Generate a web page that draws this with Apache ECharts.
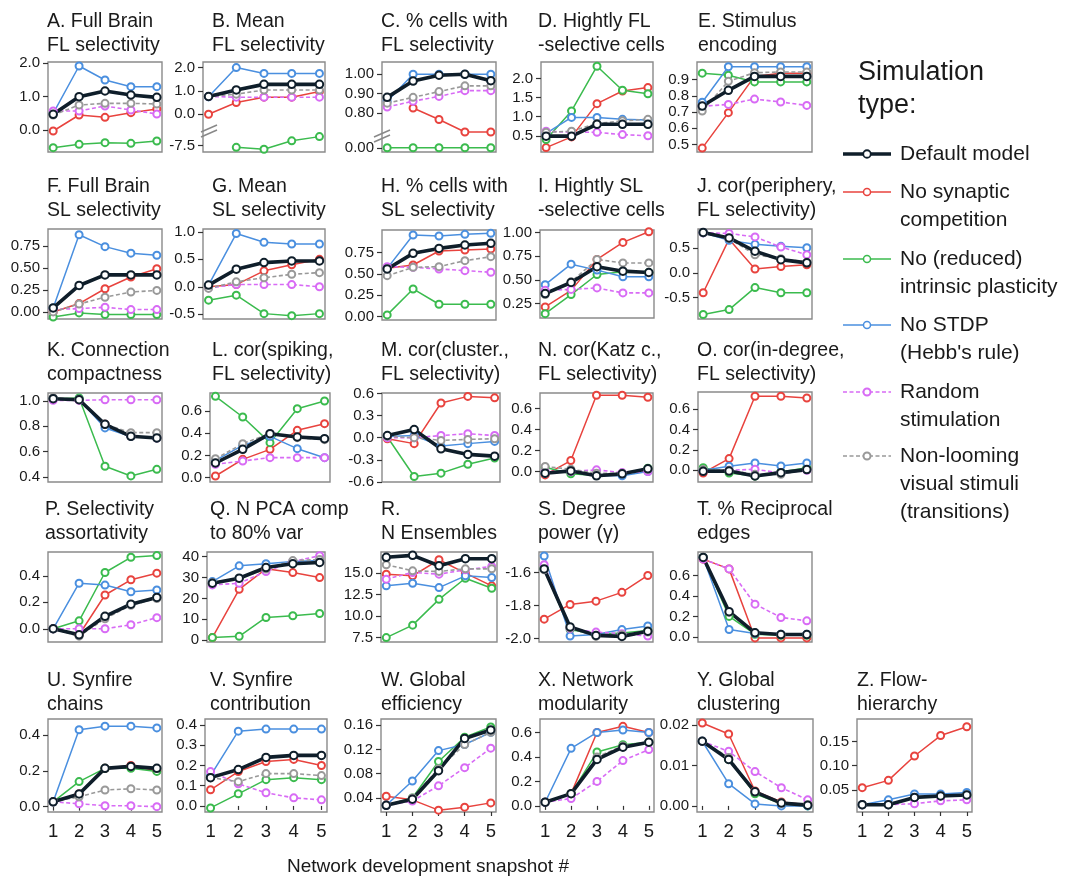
<!DOCTYPE html>
<html><head><meta charset="utf-8">
<script src="https://cdn.jsdelivr.net/npm/echarts@6/dist/echarts.min.js"></script>
<style>html,body{margin:0;padding:0;background:#fff}#c{width:1068px;height:884px}</style>
</head><body><div id="c"></div>
<script>
// ---------------- DATA ----------------
const snapshots = [1, 2, 3, 4, 5];
const seriesNames = ['Default model', 'No synaptic competition', 'No (reduced) intrinsic plasticity', "No STDP (Hebb's rule)", 'Random stimulation', 'Non-looming visual stimuli (transitions)'];
const legendLines = [['Default model'], ['No synaptic', 'competition'], ['No (reduced)', 'intrinsic plasticity'], ['No STDP', "(Hebb's rule)"], ['Random', 'stimulation'], ['Non-looming', 'visual stimuli', '(transitions)']];
const legendTitle = ['Simulation', 'type:'];
const xAxisTitle = 'Network development snapshot #';
const panelTitles = [
  'A. Full Brain\nFL selectivity', 'B. Mean\nFL selectivity', 'C. % cells with\nFL selectivity', 'D. Hightly FL\n-selective cells', 'E. Stimulus\nencoding',
  'F. Full Brain\nSL selectivity', 'G. Mean\nSL selectivity', 'H. % cells with\nSL selectivity', 'I. Hightly SL\n-selective cells', 'J. cor(periphery,\nFL selectivity)',
  'K. Connection\ncompactness', 'L. cor(spiking,\nFL selectivity)', 'M. cor(cluster.,\nFL selectivity)', 'N. cor(Katz c.,\nFL selectivity)', 'O. cor(in-degree,\nFL selectivity)',
  'P. Selectivity\nassortativity', 'Q. N PCA comp\nto 80% var', 'R.\nN Ensembles', 'S. Degree\npower (\u03b3)', 'T. % Reciprocal\nedges',
  'U. Synfire\nchains', 'V. Synfire\ncontribution', 'W. Global\nefficiency', 'X. Network\nmodularity', 'Y. Global\nclustering', 'Z. Flow-\nhierarchy'
];
// series order in every panel: default, no synaptic competition, no intrinsic plasticity, no STDP, random stimulation, non-looming
const dataA = [[0.47,1.0,1.17,1.05,0.98],[-0.03,0.45,0.38,0.52,0.63],[-0.53,-0.43,-0.38,-0.40,-0.33],[0.50,1.92,1.50,1.30,1.30],[0.57,0.57,0.72,0.60,0.48],[0.45,0.75,0.80,0.80,0.78]];
const dataB = [[0.76,1.04,1.28,1.28,1.28],[0.0,0.5,0.73,0.73,0.97],[null,-7.57,-7.65,-7.29,-7.11],[0.75,2.0,1.75,1.75,1.75],[0.76,0.73,0.73,0.73,0.73],[0.76,0.86,1.04,1.04,1.04]];
const dataC = [[0.88,0.965,0.995,1.0,0.967],[null,0.825,0.765,0.70,0.70],[0,0,0,0,0],[0.86,1.0,1.0,1.0,1.0],[0.83,0.86,0.885,0.915,0.915],[0.85,0.88,0.91,0.94,0.94]];
const dataD = [[0.49,0.49,0.80,0.80,0.80],[0.19,0.47,1.34,1.67,1.76],[0.40,1.15,2.32,1.69,1.60],[0.56,0.98,0.98,0.93,0.91],[0.62,0.59,0.59,0.53,0.50],[0.59,0.62,0.82,0.89,0.93]];
const dataE = [[0.737,0.834,0.92,0.92,0.92],[0.477,0.696,0.92,0.94,0.94],[0.94,0.927,0.886,0.886,0.886],[0.76,0.98,0.98,0.98,0.98],[0.735,0.747,0.78,0.762,0.741],[0.706,0.89,0.943,0.947,0.947]];
const dataF = [[0.046,0.30,0.42,0.42,0.42],[0.0,0.095,0.263,0.396,0.49],[-0.057,-0.011,-0.03,-0.03,-0.03],[0.046,0.875,0.74,0.666,0.643],[0.027,0.038,0.053,0.027,0.027],[0.0,0.09,0.167,0.225,0.244]];
const dataG = [[0.03,0.32,0.44,0.47,0.47],[0.0,0.04,0.29,0.40,0.50],[-0.245,-0.153,-0.49,-0.527,-0.49],[0.03,0.97,0.81,0.78,0.78],[-0.02,0.04,0.04,0.04,0.0],[-0.03,0.09,0.165,0.227,0.257]];
const dataH = [[0.559,0.742,0.80,0.84,0.86],[0.566,0.605,0.77,0.78,0.793],[0.02,0.324,0.145,0.145,0.145],[0.566,0.957,0.945,0.965,0.977],[0.586,0.578,0.559,0.539,0.52],[0.48,0.578,0.586,0.656,0.703]];
const dataI = [[0.356,0.473,0.64,0.593,0.579],[0.215,0.39,0.717,0.897,1.01],[0.144,0.346,0.558,0.586,0.579],[0.45,0.667,0.604,0.533,0.533],[0.39,0.40,0.416,0.363,0.363],[0.346,0.48,0.717,0.68,0.68]];
const dataJ = [[0.82,0.71,0.44,0.27,0.205],[-0.40,0.685,0.08,0.13,0.165],[-0.84,-0.74,-0.295,-0.40,-0.40],[0.815,0.66,0.58,0.54,0.51],[0.815,0.80,0.73,0.527,0.37],[0.815,0.70,0.37,0.29,0.22]];
const dataK = [[1.018,1.01,0.816,0.721,0.708],[1.018,1.01,0.816,0.721,0.708],[1.018,1.024,0.484,0.408,0.46],[1.02,1.013,0.787,0.72,0.708],[1.005,1.005,1.01,1.01,1.01],[1.026,1.013,0.816,0.75,0.75]];
const dataL = [[0.132,0.255,0.396,0.366,0.351],[0.015,0.165,0.255,0.426,0.486],[0.732,0.546,0.315,0.621,0.69],[0.156,0.29,0.372,0.261,0.18],[0.12,0.15,0.18,0.18,0.18],[0.17,0.306,0.396,0.36,0.342]];
const dataM = [[0.03,0.11,-0.15,-0.226,-0.25],[-0.014,-0.08,0.47,0.56,0.54],[0.01,-0.525,-0.48,-0.36,-0.276],[0.018,0.03,-0.113,-0.08,-0.05],[0.0,0.0,0.03,0.054,0.03],[0.018,0.0,-0.036,-0.023,-0.014]];
const dataN = [[-0.016,0.006,-0.041,-0.022,0.026],[-0.032,0.105,0.728,0.728,0.709],[0.04,-0.022,-0.038,-0.022,0.032],[-0.016,0.01,-0.038,-0.041,0.0],[0.0,0.0,0.016,-0.01,0.0],[0.048,0.022,-0.016,-0.016,0.022]];
const dataO = [[-0.01,-0.007,-0.056,-0.023,0.007],[-0.026,0.115,0.728,0.728,0.711],[0.026,-0.026,-0.056,-0.016,0.026],[0.0,0.04,0.072,0.043,0.072],[-0.007,0.0,0.01,-0.026,0.0],[0.007,0.0,-0.04,-0.04,0.007]];
const dataP = [[0.0,-0.046,0.094,0.186,0.237],[0.0,-0.045,0.255,0.37,0.42],[0.0,0.06,0.425,0.54,0.553],[0.0,0.344,0.33,0.28,0.293],[0.0,0.0,0.0,0.03,0.084],[0.0,-0.056,0.076,0.178,0.229]];
const dataQ = [[27.2,29.6,34.7,36.5,37.1],[1.3,24.3,34.1,32.3,29.9],[1.3,1.9,10.9,11.7,12.8],[28,35.5,36.5,37.6,38.1],[26.4,27.2,32.8,37.6,40.3],[27.5,29.5,34,38,38.5]];
const dataR = [[16.84,17.07,15.86,16.68,16.68],[14.88,14.69,16.56,15.0,13.52],[7.5,8.95,11.95,14.41,13.24],[13.52,13.83,13.32,14.69,14.49],[14.3,15.08,14.88,15.39,15.78],[15.98,15.27,15.2,15.5,15.5]];
const dataS = [[-1.578,-1.929,-1.98,-1.986,-1.955],[-1.882,-1.793,-1.773,-1.72,-1.618],[-1.578,-1.945,-1.974,-1.966,-1.95],[-1.50,-1.984,-1.974,-1.945,-1.923],[-1.553,-1.939,-1.96,-1.97,-1.984],[-1.584,-1.935,-1.986,-1.976,-1.96]];
const dataT = [[0.777,0.246,0.04,0.023,0.023],[0.76,0.665,-0.01,-0.01,-0.01],[0.777,0.20,0.026,0.016,0.016],[0.777,0.072,0.033,0.026,0.026],[0.76,0.665,0.32,0.19,0.157],[0.777,0.24,0.04,0.023,0.023]];
const dataU = [[0.027,0.071,0.214,0.225,0.214],[0.027,0.07,0.214,0.23,0.20],[0.027,0.14,0.214,0.214,0.197],[0.027,0.43,0.45,0.45,0.44],[0.027,0.016,0.005,0.005,0.0],[0.027,0.055,0.093,0.10,0.093]];
const dataV = [[0.14,0.18,0.24,0.25,0.25],[0.08,0.17,0.22,0.23,0.20],[-0.01,0.06,0.13,0.14,0.13],[0.15,0.37,0.38,0.38,0.38],[0.17,0.11,0.065,0.04,0.03],[0.14,0.12,0.16,0.16,0.15]];
const dataW = [[0.028,0.038,0.085,0.138,0.152],[0.043,0.037,0.02,0.025,0.032],[0.028,0.04,0.10,0.14,0.157],[0.028,0.068,0.118,0.128,0.148],[0.028,0.035,0.06,0.09,0.122],[0.028,0.04,0.088,0.128,0.148]];
const dataX = [[0.03,0.10,0.38,0.48,0.52],[0.03,0.10,0.60,0.65,0.60],[0.03,0.10,0.44,0.50,0.52],[0.03,0.47,0.60,0.62,0.60],[0.03,0.06,0.20,0.37,0.46],[0.03,0.10,0.40,0.49,0.52]];
const dataY = [[0.016,0.0115,0.0035,0.0007,0.0002],[0.0205,0.0178,0.0037,0.001,0.0003],[0.016,0.0115,0.003,0.0005,0.0],[0.016,0.0055,0.0005,0.0,0.0],[0.016,0.0135,0.0085,0.0045,0.0015],[0.016,0.012,0.0035,0.0008,0.0003]];
const dataZ = [[0.02,0.02,0.035,0.038,0.04],[0.055,0.07,0.12,0.162,0.18],[0.02,0.02,0.035,0.038,0.04],[0.02,0.03,0.042,0.042,0.045],[0.02,0.02,0.022,0.028,0.03],[0.02,0.02,0.035,0.038,0.04]];

// y tick values per panel
const ticksA = [0, 1, 2];
const ticksB = [-7.5, 0, 1, 2];
const ticksC = [0, 0.8, 0.9, 1.0];
const ticksD = [0.5, 1.0, 1.5, 2.0];
const ticksE = [0.5, 0.6, 0.7, 0.8, 0.9];
const ticksF = [0, 0.25, 0.5, 0.75];
const ticksG = [-0.5, 0, 0.5, 1.0];
const ticksH = [0, 0.25, 0.5, 0.75];
const ticksI = [0.25, 0.5, 0.75, 1.0];
const ticksJ = [-0.5, 0, 0.5];
const ticksK = [0.4, 0.6, 0.8, 1.0];
const ticksL = [0, 0.2, 0.4, 0.6];
const ticksM = [-0.6, -0.3, 0, 0.3, 0.6];
const ticksN = [0, 0.2, 0.4, 0.6];
const ticksO = [0, 0.2, 0.4, 0.6];
const ticksP = [0, 0.2, 0.4];
const ticksQ = [0, 10, 20, 30, 40];
const ticksR = [7.5, 10, 12.5, 15];
const ticksS = [-2.0, -1.8, -1.6];
const ticksT = [0, 0.2, 0.4, 0.6];
const ticksU = [0, 0.2, 0.4];
const ticksV = [0, 0.1, 0.2, 0.3, 0.4];
const ticksW = [0.04, 0.08, 0.12, 0.16];
const ticksX = [0, 0.2, 0.4, 0.6];
const ticksY = [0, 0.01, 0.02];
const ticksZ = [0.05, 0.10, 0.15];

// ---------------- LAYOUT ----------------
// box: [left, top, width, height], tx: title left, ty: title top offset, dec: label decimals, r: [min,max]
const panels = [
  {d:dataA,t:ticksA,box:[48,62,114,90],tx:47,ty:52,dec:1,r:[-0.66,2.04]},
  {d:dataB,t:ticksB,box:[203,62,122,90],tx:212,ty:52,dec:1,r:[-7.77,2.24],brk:{start:-7.0,end:-0.35,gap:'13%'},slash:[209,129]},
  {d:dataC,t:ticksC,box:[382,62,114,90],tx:381,ty:52,dec:2,r:[-0.022,1.064],brk:{start:0.015,end:0.675,gap:'9%'},slash:[382,134]},
  {d:dataD,t:ticksD,box:[541,62,112,90],tx:538,ty:52,dec:1,r:[0.075,2.43]},
  {d:dataE,t:ticksE,box:[697,62,115,90],tx:698,ty:52,dec:1,r:[0.453,1.009]},
  {d:dataF,t:ticksF,box:[48,229,114,90],tx:47,ty:54,dec:2,r:[-0.08,0.94]},
  {d:dataG,t:ticksG,box:[203,229,122,90],tx:212,ty:54,dec:1,r:[-0.588,1.053]},
  {d:dataH,t:ticksH,box:[382,230,114,90],tx:381,ty:55,dec:2,r:[-0.04,1.016]},
  {d:dataI,t:ticksI,box:[540,230,114,88],tx:538,ty:55,dec:2,r:[0.098,1.028]},
  {d:dataJ,t:ticksJ,box:[698,229,114,90],tx:697,ty:54,dec:1,r:[-0.93,0.89]},
  {d:dataK,t:ticksK,box:[48,393,114,89],tx:47,ty:54,dec:1,r:[0.36,1.063]},
  {d:dataL,t:ticksL,box:[210,393,120,89],tx:212,ty:54,dec:1,r:[-0.039,0.762]},
  {d:dataM,t:ticksM,box:[382,393,118,89],tx:381,ty:54,dec:1,r:[-0.60,0.606]},
  {d:dataN,t:ticksN,box:[540,393,113,89],tx:538,ty:54,dec:1,r:[-0.10,0.75]},
  {d:dataO,t:ticksO,box:[698,392,114,90],tx:697,ty:53,dec:1,r:[-0.115,0.77]},
  {d:dataP,t:ticksP,box:[48,552,114,90],tx:45,ty:54,dec:1,r:[-0.10,0.58]},
  {d:dataQ,t:ticksQ,box:[207,552,118,90],tx:210,ty:54,dec:0,r:[-0.8,42.1]},
  {d:dataR,t:ticksR,box:[381,552,116,90],tx:381,ty:54,dec:1,r:[6.99,17.46]},
  {d:dataS,t:ticksS,box:[539,552,114,90],tx:538,ty:54,dec:1,r:[-2.02,-1.476]},
  {d:dataT,t:ticksT,box:[698,552,114,90],tx:697,ty:54,dec:1,r:[-0.05,0.83]},
  {d:dataU,t:ticksU,box:[48,719,114,93],tx:47,ty:50,dec:1,r:[-0.03,0.49],bottom:true},
  {d:dataV,t:ticksV,box:[205,719,122,93],tx:210,ty:50,dec:1,r:[-0.03,0.43],bottom:true},
  {d:dataW,t:ticksW,box:[381,719,115,93],tx:381,ty:50,dec:2,r:[0.017,0.17],bottom:true},
  {d:dataX,t:ticksX,box:[540,719,114,93],tx:538,ty:50,dec:1,r:[-0.05,0.71],bottom:true},
  {d:dataY,t:ticksY,box:[697,719,116,93],tx:697,ty:50,dec:2,r:[-0.0015,0.0215],bottom:true},
  {d:dataZ,t:ticksZ,box:[857,719,115,93],tx:857,ty:50,dec:2,r:[0.005,0.196],bottom:true}
];

const FONT = "'Liberation Sans', Arial, Helvetica, sans-serif";
const TXT = '#1a1a1a';
const styles = [
  {color:'#0f1e2a', w:3.6, dash:'solid', size:7.5, bw:1.8},
  {color:'#e8433e', w:1.5, dash:'solid', size:7, bw:1.5},
  {color:'#3bbb4e', w:1.5, dash:'solid', size:7, bw:1.5},
  {color:'#4a8fdf', w:1.5, dash:'solid', size:7, bw:1.5},
  {color:'#d86bf5', w:1.6, dash:[4,2.5], size:7, bw:2},
  {color:'#999999', w:1.6, dash:[4,2.5], size:7, bw:2}
];
const drawOrder = [1, 2, 3, 4, 5, 0];

const grids = [], xAxes = [], yAxes = [], series = [], titles = [], graphics = [];
panels.forEach((p, i) => {
  const [l, t, w, h] = p.box;
  grids.push({left:l, top:t, width:w, height:h, show:true, borderColor:'#8a8a8a', borderWidth:1.4, backgroundColor:'rgba(0,0,0,0)'});
  titles.push({text:panelTitles[i], left:p.tx, top:t-p.ty, padding:0,
    textStyle:{fontFamily:FONT, fontSize:19.5, fontWeight:'normal', color:TXT, lineHeight:24}});
  xAxes.push({gridIndex:i, type:'value', min:0.8, max:5.2,
    axisLine:{show:false}, splitLine:{show:false},
    axisTick:{show:!!p.bottom, customValues:snapshots, length:4, lineStyle:{color:'#333', width:1.2}},
    axisLabel:{show:!!p.bottom, customValues:snapshots, fontFamily:FONT, fontSize:18.5, color:TXT, margin:10}});
  const ya = {gridIndex:i, type:'value', min:p.r[0], max:p.r[1],
    axisLine:{show:false}, splitLine:{show:false},
    axisTick:{show:true, customValues:p.t, length:5, lineStyle:{color:'#333', width:1.2}},
    axisLabel:{customValues:p.t, fontFamily:FONT, fontSize:15, color:TXT, margin:8,
      formatter:(v) => Number(v).toFixed(p.dec)}};
  if (p.brk) {
    ya.breaks = [p.brk];
    ya.breakArea = {show:true, expandOnClick:false, zigzagAmplitude:0,
      itemStyle:{color:'rgba(0,0,0,0)', borderColor:'rgba(0,0,0,0)', borderWidth:0}};
  }
  yAxes.push(ya);
  drawOrder.forEach((k) => {
    const s = styles[k];
    series.push({type:'line', name:seriesNames[k], xAxisIndex:i, yAxisIndex:i,
      data:snapshots.map((x, j) => [x, p.d[k][j]]),
      symbol:'emptyCircle', symbolSize:s.size, silent:true, animation:false,
      lineStyle:{color:s.color, width:s.w, type:s.dash},
      itemStyle:{color:s.color, borderWidth:s.bw}});
  });
  if (p.slash) {
    const [sx, sy] = p.slash;
    [0, 5].forEach(off => graphics.push({type:'line', z:100,
      shape:{x1:sx-8, y1:sy+off+3, x2:sx+8, y2:sy+off-4},
      style:{stroke:'#888', lineWidth:1.5}}));
  }
});

// x axis title
graphics.push({type:'text', z:100, style:{text:xAxisTitle, x:428, y:867, fill:TXT,
  font:'19px ' + FONT, align:'center', verticalAlign:'middle', textAlign:'center', textVerticalAlign:'middle'}});

// legend (drawn as graphics)
legendTitle.forEach((s, j) => graphics.push({type:'text', z:100, style:{text:s, x:858, y:73 + j*33, fill:TXT,
  font:'27px ' + FONT, verticalAlign:'middle', textVerticalAlign:'middle'}}));
const legendY = [154, 192, 259, 325, 392, 456];
legendLines.forEach((lines, k) => {
  const s = styles[k], y = legendY[k];
  graphics.push({type:'line', z:100, shape:{x1:843, y1:y, x2:891, y2:y},
    style:{stroke:s.color, lineWidth:s.w, lineDash:s.dash === 'solid' ? null : s.dash}});
  graphics.push({type:'circle', z:101, shape:{cx:867, cy:y, r:s.size/2},
    style:{fill:'#fff', stroke:s.color, lineWidth:s.bw}});
  lines.forEach((ln, j) => graphics.push({type:'text', z:100, style:{text:ln, x:900, y:y + j*28, fill:TXT,
    font:'21px ' + FONT, verticalAlign:'middle', textVerticalAlign:'middle'}}));
});

const chart = echarts.init(document.getElementById('c'), null, {renderer:'canvas'});
chart.setOption({animation:false, backgroundColor:'#fff', title:titles, grid:grids,
  xAxis:xAxes, yAxis:yAxes, series:series, graphic:graphics});
</script></body></html>
